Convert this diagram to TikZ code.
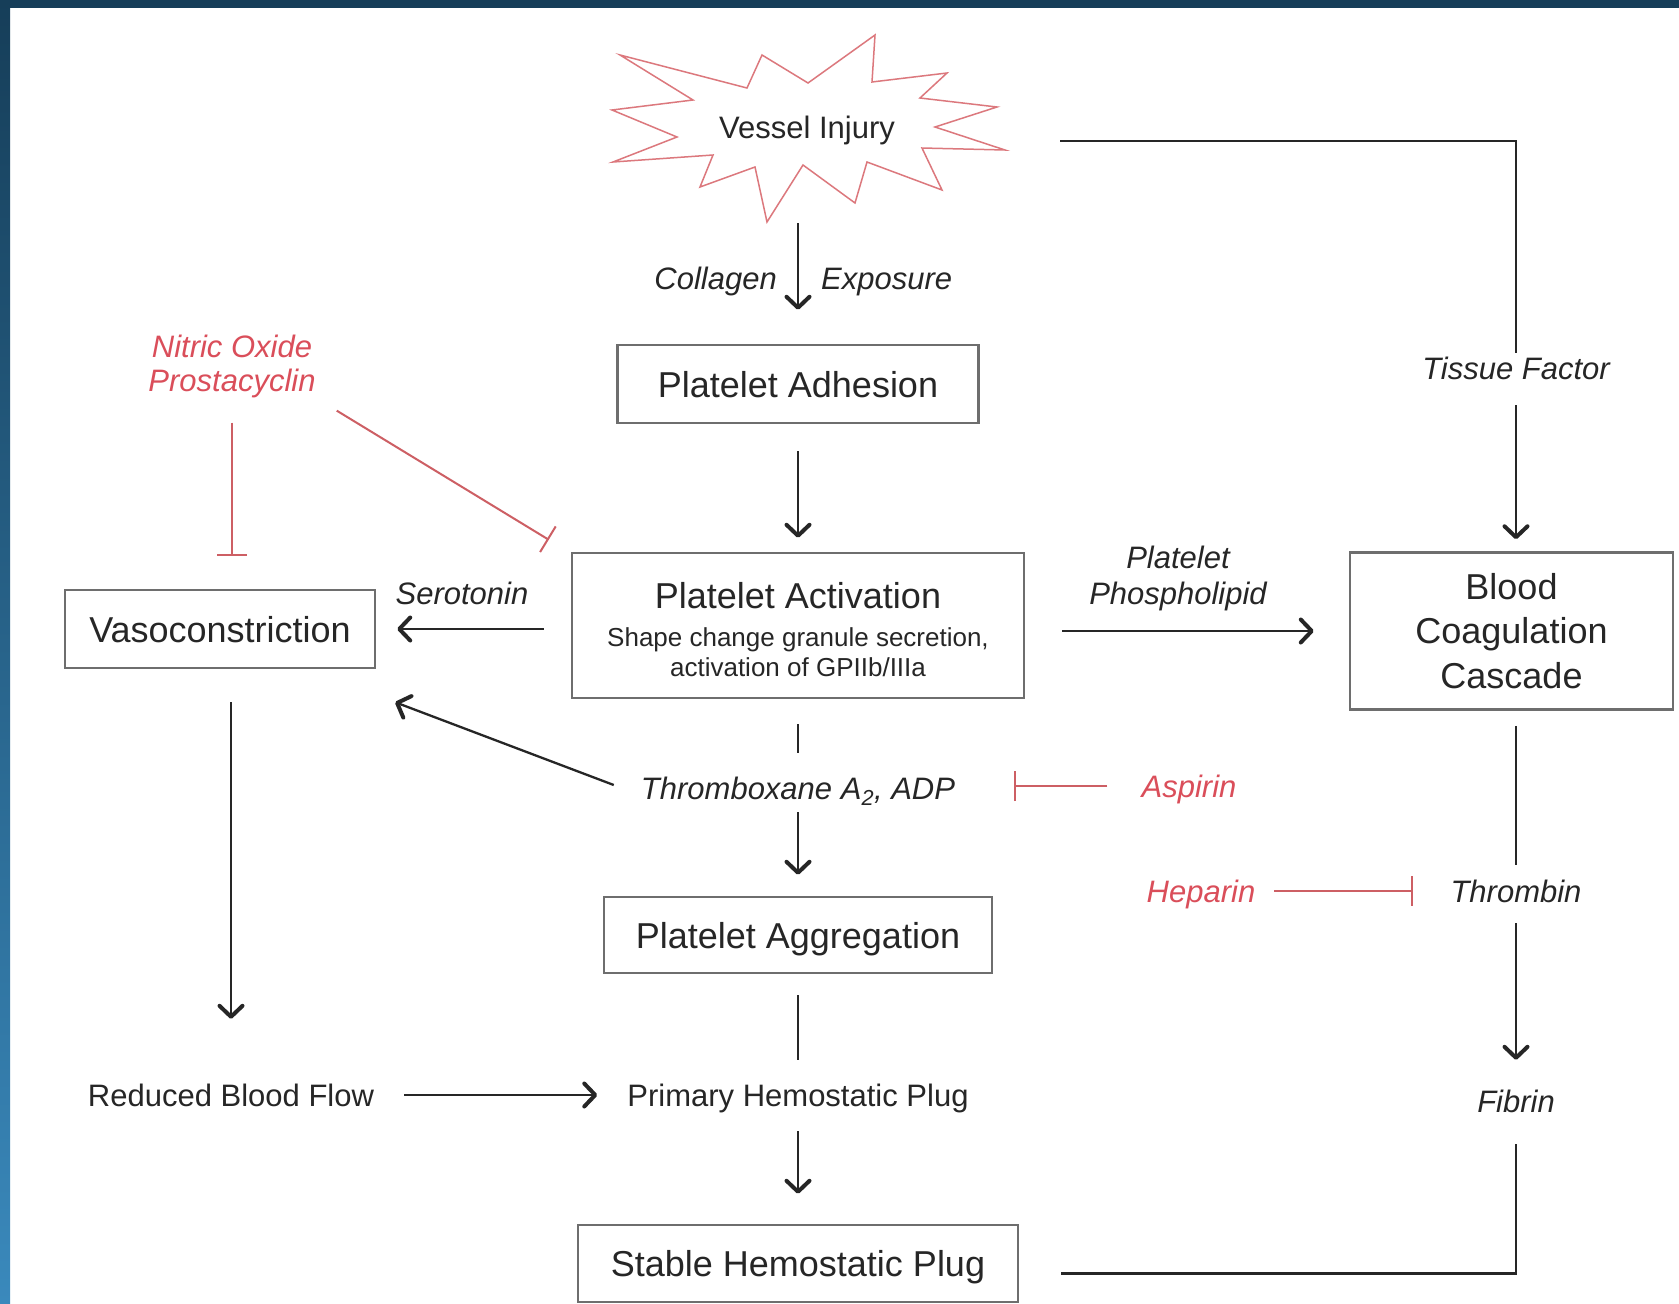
\documentclass[tikz,border=0pt]{standalone}
\usepackage{fontspec}
\setmainfont{Liberation Sans}
\usetikzlibrary{arrows.meta,calc}
\definecolor{ink}{HTML}{262626}
\definecolor{boxc}{HTML}{6E6E6E}
\definecolor{redt}{RGB}{218,78,90}
\definecolor{redl}{RGB}{205,95,100}
\definecolor{starc}{RGB}{220,120,125}
\definecolor{navyA}{RGB}{22,62,89}
\definecolor{blueB}{RGB}{58,137,188}
\begin{document}
\begin{tikzpicture}[x=1pt,y=-1pt,
  box/.style={draw=boxc,line width=2.5pt,text=ink,font=\fontsize{36}{40}\selectfont,inner sep=0pt},
  one/.style={text height=26pt,text depth=0pt},
  lbl/.style={text=ink,inner sep=0pt,font=\fontsize{31}{34}\selectfont\itshape,text height=22pt,text depth=0pt},
  txt/.style={text=ink,inner sep=0pt,font=\fontsize{31}{34}\selectfont,text height=22pt,text depth=0pt},
  rlbl/.style={lbl,text=redt},
  mlbl/.style={text=ink,inner sep=0pt,align=center,font=\fontsize{31}{34}\selectfont\itshape},
  ln/.style={draw=ink,line width=2.3pt},
  arr/.style={ln,-{Straight Barb[length=11pt,width=23pt,line width=4pt,round]}},
  inh/.style={draw=redl,line width=2pt,-{Bar[width=30pt]}},
  starln/.style={draw=starc,line width=1.5pt,line join=miter}
]
% background and frame
\fill[white] (0,0) rectangle (1679,1304);
\shade[top color=navyA,bottom color=blueB] (0,0) rectangle (10,1304);
\fill[navyA] (0,0) rectangle (1679,8);
\useasboundingbox (0,0) rectangle (1679,1304);

% vessel injury star
\draw[starln] (620,55) -- (747,88) -- (762,55) -- (808,83) -- (875,35) -- (872,82)
  -- (947,73) -- (920,98) -- (997,107) -- (935,127) -- (1005,150) -- (922,148)
  -- (942,190) -- (867,162) -- (855,203) -- (803,165) -- (767,222) -- (755,167)
  -- (700,187) -- (713,155) -- (613,162) -- (677,137) -- (612,110) -- (693,100) -- cycle;
\node[txt] (vi) at (807,127) {Vessel Injury};
\coordinate (vibot) at (798,223);
\coordinate (virt) at (1060,141);

% boxes
\node[box,one,minimum width=361pt,minimum height=78pt] (adh) at (798,384) {Platelet Adhesion};
\node[box,minimum width=452pt,minimum height=145pt] (act) at (798,625.5) {};
\node[text=ink,inner sep=0pt,font=\fontsize{36}{40}\selectfont,text height=26pt,text depth=0pt] (acttitle) at (798,595) {Platelet Activation};
\node[text=ink,inner sep=0pt,align=center,font=\fontsize{26}{30}\selectfont] (actsub) at (798,652) {Shape change granule secretion,\\activation of GPIIb/IIIa};
\node[box,one,minimum width=310pt,minimum height=78pt] (vaso) at (220,629) {Vasoconstriction};
\node[box,align=center,minimum width=323pt,minimum height=157pt,font=\fontsize{36}{44.5}\selectfont] (bcc) at (1511.5,631) {Blood\\Coagulation\\Cascade};
\node[box,one,minimum width=388pt,minimum height=76pt] (agg) at (798,935) {Platelet Aggregation};
\node[box,one,minimum width=440pt,minimum height=77pt] (shp) at (798,1263.5) {Stable Hemostatic Plug};

% labels
\node[lbl,anchor=east] (col) at (777,278) {Collagen};
\node[lbl,anchor=west] (exp) at (821,278) {Exposure};
\node[mlbl,text=redt] (no) at (232,366) {Nitric Oxide\\Prostacyclin};
\node[lbl] (tf) at (1516,368) {Tissue Factor};
\node[lbl] (sero) at (462,593) {Serotonin};
\node[mlbl,font=\fontsize{31}{36}\selectfont\itshape] (pp) at (1178,578) {Platelet\\Phospholipid};
\node[lbl] (tx) at (798,788) {Thromboxane A\textsubscript{2}, ADP};
\node[rlbl] (asp) at (1189,786) {Aspirin};
\node[lbl] (thr) at (1516,891) {Thrombin};
\node[rlbl] (hep) at (1201,891) {Heparin};
\node[lbl] (fib) at (1516,1101) {Fibrin};
\node[txt] (rbf) at (231,1095) {Reduced Blood Flow};
\node[txt] (php) at (798,1095) {Primary Hemostatic Plug};

% connectors
\draw[arr,shorten >=34pt] (vibot) -- (adh);
\draw[arr,shorten <=27pt,shorten >=14pt] (adh) -- (act);
\draw[ln,shorten >=4pt] (virt) -| (tf);
\draw[arr,shorten <=26pt,shorten >=12pt] (tf) -- (tf |- bcc.north);
\draw[arr,shorten <=27pt,shorten >=21pt] (act.west |- vaso.east) -- (vaso.east);
\draw[arr,shorten <=37pt,shorten >=35pt] (act.east |- bcc.west) -- (bcc.west);
\draw[inh,shorten <=25pt,shorten >=33pt] (no) -- (no |- vaso.north);
\draw[inh] ($(no.south east)+(21,13)$) -- ($(act.north west)+(-22,-12)$);
\draw[ln,shorten <=25pt,shorten >=24pt] (act) -- (tx);
\draw[arr,shorten <=13pt,shorten >=21pt] (tx) -- (agg);
\draw[arr] ($(tx.west)+(-27,-3)$) -- ($(vaso.south east)+(19,33)$);
\draw[inh,shorten <=34pt,shorten >=59pt] (asp) -- (asp -| tx.east);
\draw[ln,shorten <=21pt,shorten >=24pt] (agg) -- (php);
\draw[arr,shorten <=33pt,shorten >=65pt] (rbf |- vaso.south) -- (rbf);
\draw[arr,shorten <=30pt,shorten >=30pt] (rbf) -- (php);
\draw[arr,shorten <=25pt,shorten >=30pt] (php) -- (shp);
\draw[ln,shorten <=15pt,shorten >=15pt] (thr |- bcc.south) -- (thr);
\draw[inh,shorten <=19pt,shorten >=37pt] (hep) -- (thr);
\draw[arr,shorten <=21pt,shorten >=30pt] (thr) -- (fib);
\draw[ln,shorten <=32pt,shorten >=42pt] (fib) |- ($(shp.east)+(0,10)$);
\end{tikzpicture}
\end{document}
